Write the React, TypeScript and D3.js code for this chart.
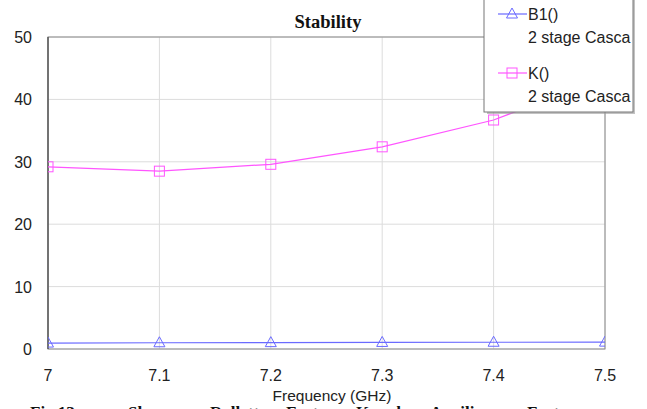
import React from "react";
import * as d3 from "d3";

const freqs = [7.0, 7.1, 7.2, 7.3, 7.4, 7.5];
const kValues = [29.2, 28.5, 29.6, 32.4, 36.7, 43.5];
const b1Values = [0.95, 1.0, 1.02, 1.05, 1.08, 1.1];
const xTicks = [7, 7.1, 7.2, 7.3, 7.4, 7.5];
const yTicks = [0, 10, 20, 30, 40, 50];
const captionWords = [
  { t: "Fig.13", x: 30 },
  { t: "Shows", x: 128 },
  { t: "Rollett", x: 210 },
  { t: "Factor", x: 286 },
  { t: "K and", x: 356 },
  { t: "Auxiliary", x: 430 },
  { t: "Factor", x: 527 },
];

export default function App() {
  const W = 647, H = 409;
  const left = 48, right = 605, top = 37, bottom = 349;
  const x = d3.scaleLinear().domain([7, 7.5]).range([left, right]);
  const y = d3.scaleLinear().domain([0, 50]).range([bottom, top]);
  const kData = freqs.map((f, i) => [f, kValues[i]] as [number, number]);
  const bData = freqs.map((f, i) => [f, b1Values[i]] as [number, number]);
  const line = d3.line<[number, number]>().x(d => x(d[0])).y(d => y(d[1]));
  const sans = "Liberation Sans, Arial, sans-serif";
  const serif = "Liberation Serif, Times New Roman, serif";
  const kColor = "#ff55ff";
  const bColor = "#6a6aff";
  const tri = (cx: number, cy: number) =>
    `M${cx},${cy - 6}L${cx + 5.5},${cy + 4}L${cx - 5.5},${cy + 4}Z`;

  return (
    <svg width={W} height={H} style={{ position: "absolute", left: 0, top: 0 }}>
      <rect x={0} y={0} width={W} height={H} fill="#fff" />
      <defs>
        <clipPath id="plotclip">
          <rect x={left} y={top} width={right - left} height={bottom - top} />
        </clipPath>
        <clipPath id="legclip">
          <rect x={484} y={-3} width={149} height={115} />
        </clipPath>
      </defs>
      {/* grid */}
      {xTicks.map(t => (
        <line key={"gx" + t} x1={x(t)} x2={x(t)} y1={top} y2={bottom} stroke="#dcdcdc" strokeWidth={1} />
      ))}
      {yTicks.map(t => (
        <line key={"gy" + t} x1={left} x2={right} y1={y(t)} y2={y(t)} stroke="#dcdcdc" strokeWidth={1} />
      ))}
      {/* border */}
      <rect x={left} y={top} width={right - left} height={bottom - top} fill="none" stroke="#8a8a8a" strokeWidth={1} />
      <line x1={left} x2={left} y1={top} y2={bottom} stroke="#444" strokeWidth={1.2} />
      <g clipPath="url(#plotclip)">
        <path d={line(kData) || ""} fill="none" stroke={kColor} strokeWidth={1.2} />
        {kData.map((d, i) => (
          <rect key={"k" + i} x={x(d[0]) - 5} y={y(d[1]) - 5} width={10} height={10} fill="none" stroke={kColor} strokeWidth={1} />
        ))}
        <path d={line(bData) || ""} fill="none" stroke={bColor} strokeWidth={1.2} />
        {bData.map((d, i) => (
          <path key={"b" + i} d={tri(x(d[0]), y(d[1]))} fill="none" stroke={bColor} strokeWidth={1} />
        ))}
      </g>
      {/* y tick labels */}
      {yTicks.map(t => (
        <text key={"yl" + t} x={32} y={y(t) + 6} textAnchor="end" fontFamily={sans} fontSize={16} fill="#222">
          {t}
        </text>
      ))}
      {/* x tick labels */}
      {xTicks.map(t => (
        <text key={"xl" + t} x={x(t)} y={381} textAnchor="middle" fontFamily={sans} fontSize={16} fill="#222">
          {t}
        </text>
      ))}
      <text x={332} y={401} textAnchor="middle" fontFamily={sans} fontSize={15.5} fill="#222">
        Frequency (GHz)
      </text>
      <text x={328} y={28} textAnchor="middle" fontFamily={serif} fontWeight="bold" fontSize={18.5} fill="#111">
        Stability
      </text>
      {/* legend */}
      <rect x={487} y={-2} width={148} height={116} fill="#999" opacity={0.6} />
      <rect x={484} y={-3} width={149} height={115} fill="#fff" stroke="#777" strokeWidth={1} />
      <g clipPath="url(#legclip)">
        <line x1={498} x2={527} y1={14} y2={14} stroke={bColor} strokeWidth={1.2} />
        <path d={tri(512, 14)} fill="none" stroke={bColor} strokeWidth={1} />
        <text x={528} y={20} fontFamily={sans} fontSize={16} fill="#222">B1()</text>
        <text x={528} y={43} fontFamily={sans} fontSize={16} fill="#222">2 stage Casca</text>
        <line x1={498} x2={527} y1={73} y2={73} stroke={kColor} strokeWidth={1.2} />
        <rect x={507} y={68} width={10} height={10} fill="none" stroke={kColor} strokeWidth={1} />
        <text x={528} y={79} fontFamily={sans} fontSize={16} fill="#222">K()</text>
        <text x={528} y={102} fontFamily={sans} fontSize={16} fill="#222">2 stage Casca</text>
      </g>
      {/* caption (clipped by page) */}
      {captionWords.map((w, i) => (
        <text key={"c" + i} x={w.x} y={418} fontFamily={serif} fontWeight="bold" fontSize={17} fill="#111">
          {w.t}
        </text>
      ))}
    </svg>
  );
}
